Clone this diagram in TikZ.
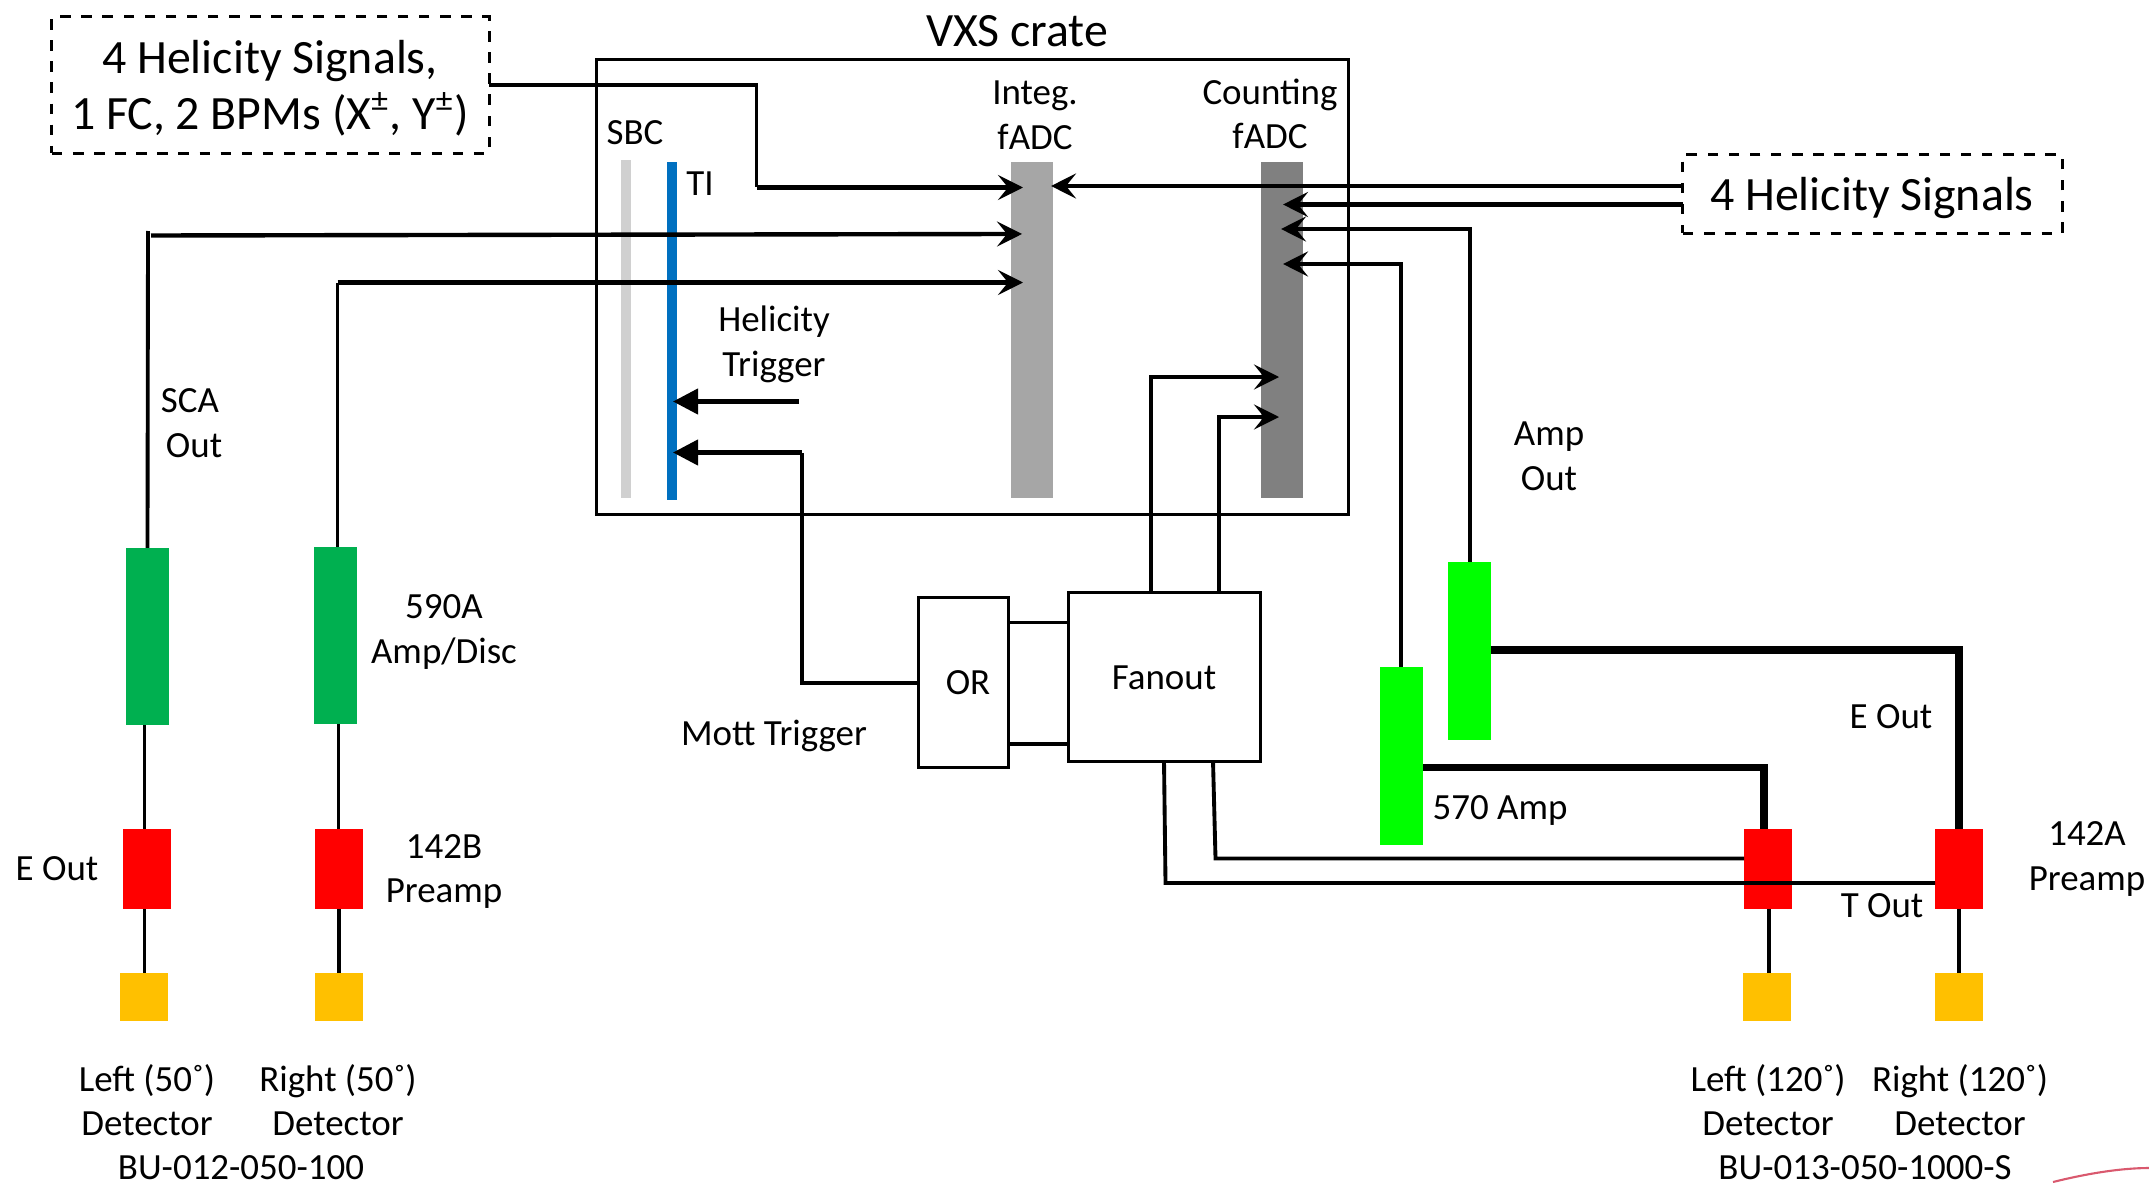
\documentclass[tikz,border=0pt]{standalone}
\usepackage{fontspec}
\setmainfont{Carlito}
\usetikzlibrary{positioning}
\usetikzlibrary{arrows.meta}
\definecolor{sbcgrey}{HTML}{D0D0D0}
\definecolor{tiblue}{HTML}{0070C0}
\definecolor{integgrey}{HTML}{A6A6A6}
\definecolor{countgrey}{HTML}{808080}
\definecolor{discgreen}{HTML}{00B050}
\definecolor{ampgreen}{HTML}{00FF00}
\definecolor{preampred}{HTML}{FF0000}
\definecolor{detgold}{HTML}{FFC000}
\definecolor{logored}{HTML}{D9596E}
\tikzset {
  % 1 unit is 1 pixel of the layout
  x=0.01cm, y=-0.01cm,
  % solid blocks, no outline
  bar/.style 2 args = {inner sep=0, outer sep=0, minimum width=#1, minimum height=#2},
  preamp/.style = {bar={0.48cm}{0.80cm}, fill=preampred},
  detector/.style = {bar={0.48cm}{0.48cm}, fill=detgold},
  disc/.style = {bar={0.43cm}{1.77cm}, fill=discgreen},
  amp/.style = {bar={0.43cm}{1.78cm}, fill=ampgreen},
  % outlined boxes
  module/.style = {draw, line width=0.85pt, inner sep=0, outer sep=0},
  signals/.style = {draw, dashed, line width=0.85pt, inner sep=0, outer sep=0},
  % labels
  lab/.style = {inner sep=0, align=center, font=\fontsize{10.5}{12.7}\selectfont},
  biglab/.style = {inner sep=0, align=center, font=\fontsize{13.6}{16}\selectfont},
  % wires
  wire/.style = {line width=1.1pt},
  heavy/.style = {line width=2.1pt},
  into/.style = {line width=1.25pt, -{Stealth[length=2.5mm,width=2.5mm,inset=1mm]}},
  trig/.style = {line width=1.25pt, -{Triangle[length=2.5mm,width=2.5mm]}},
  reach/.style = {shorten >=-#1},
}
\begin{document}
\begin{tikzpicture}

        \useasboundingbox (0, 0) rectangle (2149, 1182);

        % crate and its modules
        \node[module, minimum width=7.51cm, minimum height=4.54cm] (crate) at (972.5, 287) {};
        \node[biglab] (cratelab) at (1017, 31) {VXS crate};
        \node[bar={0.10cm}{3.375cm}, fill=sbcgrey] (sbc) at (626, 329) {};
        \node[bar={0.10cm}{3.37cm}, fill=tiblue] (ti) at (672, 331) {};
        \node[bar={0.42cm}{3.355cm}, fill=integgrey] (integ) at (1032, 330) {};
        \node[bar={0.42cm}{3.355cm}, fill=countgrey] (count) at (1282, 330) {};

        \node[lab] (sbclab) at (635, 133) {SBC};
        \node[lab] (tilab) at (700, 184) {TI};
        \node[lab] (integlab) at (1035, 115) {Integ.\\fADC};
        \node[lab] (countlab) at (1270, 114) {Counting\\fADC};
        \node[lab] (hellab) at (774, 344.5) {Helicity\\Trigger};

        % signal sources
        \node[signals, minimum width=4.37cm, minimum height=1.36cm] (sigleft) at (270.5, 85) {};
        \node[biglab] (sigleftlab) at (270, 88.5) {4 Helicity Signals,\\1 FC, 2 BPMs (X\textsuperscript{±}, Y\textsuperscript{±})};
        \node[signals, minimum width=3.79cm, minimum height=0.785cm] (sigright) at (1872.5, 194) {};
        \node[biglab] (sigrightlab) at (1872, 198) {4 Helicity Signals};

        % trigger logic
        \node[module, minimum width=0.905cm, minimum height=1.69cm] (or) at (963.5, 682.5) {};
        \node[lab] (orlab) at (968, 683) {OR};
        \node[module, minimum width=1.91cm, minimum height=1.68cm] (fanout) at (1164.5, 677) {};
        \node[lab] (fanlab) at (1164, 678) {Fanout};
        \node[lab] (mottlab) at (774, 736) {Mott Trigger};

        % 50 degree arm
        \node[disc] (discl) at (147.5, 636.5) {};
        \node[disc] (discr) at (335.5, 635.5) {};
        \node[preamp] (prell) at (147, 869) {};
        \node[preamp] (prelr) at (339, 869) {};
        \node[detector] (detll) at (144, 997) {};
        \node[detector] (detlr) at (339, 997) {};

        \node[lab] (scalab) at (190, 423) {SCA\\\hspace*{2.3pt}Out};
        \node[lab] (disclab) at (444, 632) {590A\\Amp/Disc};
        \node[lab] (eoutl) at (57, 869) {E Out};
        \node[lab] (prelab) at (444, 871.5) {142B\\Preamp};
        \node[lab] (detlla) at (147, 1100) {Left (50˚)\\Detector};
        \node[lab] (detlra) at (338, 1100) {Right (50˚)\\Detector};
        \node[lab] (bulab) at (241, 1168) {BU-012-050-100};

        % 120 degree arm
        \node[amp] (ampl) at (1401.5, 756) {};
        \node[amp] (ampr) at (1469.5, 651) {};
        \node[preamp] (prerl) at (1768, 869) {};
        \node[preamp] (prerr) at (1959, 869) {};
        \node[detector] (detrl) at (1767, 997) {};
        \node[detector] (detrr) at (1959, 997) {};

        \node[lab] (amplab) at (1549, 456) {Amp\\Out};
        \node[lab] (eoutr) at (1891, 717) {E Out};
        \node[lab] (a570) at (1500, 810) {570 Amp};
        \node[lab] (toutr) at (1882, 906) {T Out};
        \node[lab] (prerlab) at (2087, 859) {142A\\Preamp};
        \node[lab] (detrla) at (1768, 1100) {Left (120˚)\\Detector};
        \node[lab] (detrra) at (1960, 1100) {Right (120˚)\\Detector};
        \node[lab] (burlab) at (1865, 1168) {BU-013-050-1000-S};

        % bend points
        \coordinate (leftin) at (756.5, 85);
        \coordinate (leftdn) at (756.5, 187.5);
        \coordinate (scatop) at (148, 231);
        \coordinate (scain) at (151, 235.5);
        \coordinate (scaend) at (1011, 234);
        \coordinate (disctop) at (337.5, 282.5);
        \coordinate (ampltop) at (1401, 264);
        \coordinate (amprtop) at (1470, 229);
        \coordinate (fanl) at (1151, 377);
        \coordinate (fanr) at (1219, 417);
        \coordinate (orbend) at (802, 683);
        \coordinate (orup) at (802, 452.5);
        \coordinate (helstart) at (799, 401.5);
        \coordinate (tbend) at (1165.5, 883);
        \coordinate (ebend) at (1215.5, 858.5);
        \coordinate (lbend) at (1764, 767.5);
        \coordinate (rbend) at (1959, 650);

        % into the integrating fADC
        \draw [wire] (sigleft.east |- leftin) -- (leftin) -- (leftdn);
        \draw [into, reach=0.12cm] (leftdn) -- (integ.west |- leftdn);
        \draw [wire] (discl.north) -- (scatop);
        \draw [into, reach=0.11cm] (scain) -- (scaend);
        \draw [wire] (discr.north -| disctop) -- (disctop);
        \draw [into, reach=0.12cm] (disctop) -- (integ.west |- disctop);
        \draw [into, reach=0.02cm] (sigright.west |- 0, 186) -- (integ.east |- 0, 186);

        % into the counting fADC
        \draw [into, reach=0.20cm] (sigright.west |- 0, 204.5) -- (count.east |- 0, 204.5);
        \draw [into, reach=0.22cm] (ampr.north -| amprtop) |- (count.east |- amprtop);
        \draw [into, reach=0.20cm] (ampl.north -| ampltop) |- (count.east |- ampltop);
        \draw [into, reach=0.18cm] (fanout.north -| fanl) |- (count.west |- fanl);
        \draw [into, reach=0.18cm] (fanout.north -| fanr) |- (count.west |- fanr);

        % triggers
        \draw [trig, shorten >=-0.04cm] (helstart) -- (ti.east |- helstart);
        \draw [wire] (or.west |- orbend) -- (orbend) -- (orup);
        \draw [trig, shorten >=-0.04cm] (orup) -- (ti.east |- orup);
        \draw [wire] (or.east |- 0, 622.5) -- (fanout.west |- 0, 622.5);
        \draw [wire] (or.east |- 0, 744) -- (fanout.west |- 0, 744);

        % fanout to the 120 degree preamps
        \draw [wire] (1164, 761) -- (tbend) -- (prerr.west |- tbend);
        \draw [wire] (1213, 761) -- (ebend) -- (prerl.west |- ebend);

        % amp inputs
        \draw [heavy] (ampl.east |- lbend) -- (lbend) -- (lbend |- prerl.north);
        \draw [heavy] (ampr.east |- rbend) -- (rbend) -- (prerr.north);

        % preamps, amps and detectors
        \draw [wire] (discl.south -| 144.5, 0) -- (prell.north -| 144.5, 0);
        \draw [wire] (discr.south -| 338.5, 0) -- (prelr.north -| 338.5, 0);
        \draw [wire] (prell.south -| 144.5, 0) -- (detll.north -| 144.5, 0);
        \draw [wire] (prelr) -- (detlr);
        \draw [wire] (prerl.south -| 1769, 0) -- (detrl.north -| 1769, 0);
        \draw [wire] (prerr) -- (detrr);

        % logo edge in the corner
        \coordinate (logoa) at (2053, 1182);
        \coordinate (logob) at (2149, 1168);
        \draw [logored, line width=0.6pt] (logoa) .. controls (2085, 1174) and (2120, 1168) .. (logob);

\end{tikzpicture}
\end{document}
